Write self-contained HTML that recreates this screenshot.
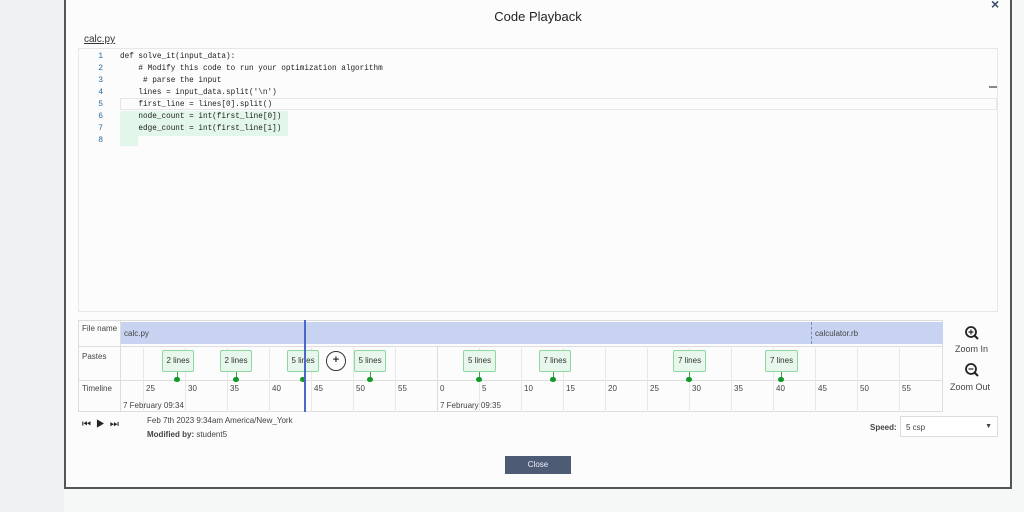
<!DOCTYPE html>
<html><head><meta charset="utf-8"><style>
*{margin:0;padding:0;box-sizing:border-box}
body{width:1024px;height:512px;overflow:hidden;background:#f6f7f7;font-family:"Liberation Sans",sans-serif;position:relative;color:#333}
.a{position:absolute}
.side{left:0;top:0;width:64px;height:512px;background:#eef0f2}
.modal{left:64px;top:-4px;width:948px;height:493px;background:#fbfcfb;border:2px solid #555}
.code{left:78px;top:48px;width:920px;height:264px;border:1px solid #e6e8e8;background:#fbfcfb}
.ln{font-family:"Liberation Mono",monospace;font-size:8px;color:#2a6aa0;left:93px;width:10px;text-align:right}
.cl{font-family:"Liberation Mono",monospace;font-size:8px;color:#222;left:120px;white-space:pre;transform:scaleX(0.96);transform-origin:left}
.hl{background:#e2f6ea}
.tbl{left:78px;top:320px;width:865px;height:92px;border:1px solid #ddd;background:#fbfcfb}
.lab{font-size:8px;color:#444;left:82px}
.vl{width:1px;background:#e8e8e8;top:346px;height:66px}
.tick{font-size:8px;color:#444;top:384px}
.p{height:22px;top:350px;background:#e8f7ec;border:1px solid #8fd6a0;border-radius:2px;font-size:8px;color:#333;text-align:center;line-height:20px}
.st{width:1px;height:7px;background:#3fa04f;top:372px}
.dot{width:6px;height:5px;border-radius:3px;background:#119a2a;top:377px}
.sm{font-size:8px;color:#444}
</style></head><body>
<div class="a side"></div>
<div class="a modal"></div>
<div class="a" style="left:64px;top:9px;width:948px;text-align:center;font-size:13px;color:#222">Code Playback</div>
<div class="a" style="left:991px;top:-4px;font-size:14px;font-weight:bold;color:#3a4a66">×</div>
<div class="a" style="left:84px;top:34px;font-size:10px;color:#333;text-decoration:underline">calc.py</div>
<div class="a code"></div>
<div class="a" style="left:120px;top:98px;width:877px;height:12px;border:1px solid #e6e6e6"></div>
<div class="a" style="left:989px;top:86px;width:8px;height:2px;background:#888"></div>
<div class="a hl" style="left:120px;top:111px;width:18px;height:25px"></div>
<div class="a hl" style="left:138px;top:111px;width:150px;height:25px"></div>
<div class="a hl" style="left:120px;top:136px;width:18px;height:10px"></div>
<div class="a ln" style="top:52px">1</div><div class="a cl" style="top:52px">def solve_it(input_data):</div>
<div class="a ln" style="top:64px">2</div><div class="a cl" style="top:64px">    # Modify this code to run your optimization algorithm</div>
<div class="a ln" style="top:76px">3</div><div class="a cl" style="top:76px">     # parse the input</div>
<div class="a ln" style="top:88px">4</div><div class="a cl" style="top:88px">    lines = input_data.split('\n')</div>
<div class="a ln" style="top:100px">5</div><div class="a cl" style="top:100px">    first_line = lines[0].split()</div>
<div class="a ln" style="top:112px">6</div><div class="a cl" style="top:112px">    node_count = int(first_line[0])</div>
<div class="a ln" style="top:124px">7</div><div class="a cl" style="top:124px">    edge_count = int(first_line[1])</div>
<div class="a ln" style="top:136px">8</div>

<div class="a tbl"></div>
<div class="a" style="left:121px;top:322px;width:822px;height:22px;background:#c8d3f1"></div>
<div class="a" style="left:78px;top:346px;width:865px;height:1px;background:#ddd"></div>
<div class="a" style="left:78px;top:380px;width:865px;height:1px;background:#ddd"></div>
<div class="a" style="left:120px;top:320px;width:1px;height:92px;background:#ddd"></div>
<div class="a" style="left:811px;top:322px;width:0;height:22px;border-left:1px dashed #7a8ac0"></div>
<div class="a sm" style="left:124px;top:329px">calc.py</div>
<div class="a sm" style="left:815px;top:329px">calculator.rb</div>
<div class="a lab" style="top:324px">File name</div>
<div class="a lab" style="top:352px">Pastes</div>
<div class="a lab" style="top:384px">Timeline</div>

<div class="a vl" style="left:143px"></div><div class="a vl" style="left:185px"></div><div class="a vl" style="left:227px"></div><div class="a vl" style="left:269px"></div><div class="a vl" style="left:311px"></div><div class="a vl" style="left:353px"></div><div class="a vl" style="left:395px"></div><div class="a vl" style="left:437px;background:#ddd"></div><div class="a vl" style="left:479px"></div><div class="a vl" style="left:521px"></div><div class="a vl" style="left:563px"></div><div class="a vl" style="left:605px"></div><div class="a vl" style="left:647px"></div><div class="a vl" style="left:689px"></div><div class="a vl" style="left:731px"></div><div class="a vl" style="left:773px"></div><div class="a vl" style="left:815px"></div><div class="a vl" style="left:857px"></div><div class="a vl" style="left:899px"></div>

<div class="a tick" style="left:146px">25</div><div class="a tick" style="left:188px">30</div><div class="a tick" style="left:230px">35</div><div class="a tick" style="left:272px">40</div><div class="a tick" style="left:314px">45</div><div class="a tick" style="left:356px">50</div><div class="a tick" style="left:398px">55</div><div class="a tick" style="left:440px">0</div><div class="a tick" style="left:482px">5</div><div class="a tick" style="left:524px">10</div><div class="a tick" style="left:566px">15</div><div class="a tick" style="left:608px">20</div><div class="a tick" style="left:650px">25</div><div class="a tick" style="left:692px">30</div><div class="a tick" style="left:734px">35</div><div class="a tick" style="left:776px">40</div><div class="a tick" style="left:818px">45</div><div class="a tick" style="left:860px">50</div><div class="a tick" style="left:902px">55</div>
<div class="a sm" style="left:123px;top:401px">7 February 09:34</div>
<div class="a sm" style="left:440px;top:401px">7 February 09:35</div>

<div class="a p" style="left:162px;width:32px">2 lines</div><div class="a st" style="left:177px"></div><div class="a dot" style="left:174px"></div>
<div class="a p" style="left:220px;width:32px">2 lines</div><div class="a st" style="left:236px"></div><div class="a dot" style="left:233px"></div>
<div class="a p" style="left:287px;width:32px">5 lines</div><div class="a dot" style="left:300px"></div>
<div class="a p" style="left:354px;width:32px">5 lines</div><div class="a st" style="left:370px"></div><div class="a dot" style="left:367px"></div>
<div class="a p" style="left:463px;width:33px">5 lines</div><div class="a st" style="left:479px"></div><div class="a dot" style="left:476px"></div>
<div class="a p" style="left:539px;width:32px">7 lines</div><div class="a st" style="left:553px"></div><div class="a dot" style="left:550px"></div>
<div class="a p" style="left:673px;width:33px">7 lines</div><div class="a st" style="left:689px"></div><div class="a dot" style="left:686px"></div>
<div class="a p" style="left:765px;width:33px">7 lines</div><div class="a st" style="left:781px"></div><div class="a dot" style="left:778px"></div>
<div class="a" style="left:326px;top:351px;width:20px;height:20px;border:1.5px solid #333;border-radius:50%;background:#fff;text-align:center;font-size:11px;line-height:17px;font-weight:bold">+</div>
<div class="a" style="left:304px;top:320px;width:1.5px;height:92px;background:#4a68c8"></div>

<svg class="a" style="left:963px;top:325px" width="18" height="18"><circle cx="8" cy="7" r="5" fill="none" stroke="#222" stroke-width="1.8"/><line x1="11.5" y1="10.5" x2="15" y2="14" stroke="#222" stroke-width="2"/><path d="M5.5 7h5M8 4.5v5" stroke="#222" stroke-width="1.2"/></svg>
<div class="a sm" style="left:955px;top:344px;font-size:9px">Zoom In</div>
<svg class="a" style="left:963px;top:362px" width="18" height="18"><circle cx="8" cy="7" r="5" fill="none" stroke="#222" stroke-width="1.8"/><line x1="11.5" y1="10.5" x2="15" y2="14" stroke="#222" stroke-width="2"/><path d="M5.5 7h5" stroke="#222" stroke-width="1.2"/></svg>
<div class="a sm" style="left:950px;top:382px;font-size:9px">Zoom Out</div>

<div class="a" style="left:82px;top:419px;font-size:10px;color:#222;letter-spacing:5px">⏮▶⏭</div>
<div class="a sm" style="left:147px;top:416px">Feb 7th 2023 9:34am America/New_York</div>
<div class="a sm" style="left:147px;top:430px"><b>Modified by:</b> student5</div>
<div class="a sm" style="left:870px;top:423px;font-weight:bold">Speed:</div>
<div class="a" style="left:900px;top:416px;width:98px;height:21px;border:1px solid #ddd;background:#fff;font-size:8px;color:#444;padding:6px 5px">5 csp<span style="float:right;font-size:7px">▼</span></div>
<div class="a" style="left:505px;top:456px;width:66px;height:18px;background:#4d5b75;color:#eef;font-size:8px;text-align:center;line-height:18px">Close</div>
</body></html>
